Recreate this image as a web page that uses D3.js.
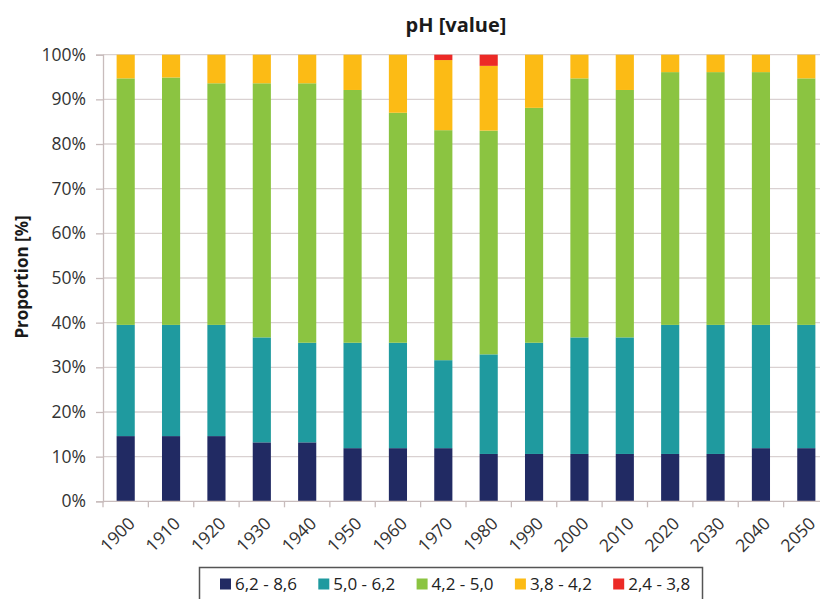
<!DOCTYPE html>
<html>
<head>
<meta charset="utf-8">
<script src="https://cdn.jsdelivr.net/npm/d3@7/dist/d3.min.js"></script>
<style>
  html, body { margin: 0; padding: 0; background: #fff; }
  svg { display: block; font-family: "Open Sans", "Noto Sans", sans-serif; }
</style>
</head>
<body>
<svg id="chart" width="820" height="599"></svg>
<script>
// Decades on the horizontal axis
const years = ["1900","1910","1920","1930","1940","1950","1960","1970",
               "1980","1990","2000","2010","2020","2030","2040","2050"];

// pH classes, bottom to top of each stacked bar
const classes = ["6,2 - 8,6", "5,0 - 6,2", "4,2 - 5,0", "3,8 - 4,2", "2,4 - 3,8"];
const colors  = ["#212a63", "#1f9a9f", "#8bc441", "#fcbb15", "#ec2a26"];

// Share of each class per decade, in percent
const ph62_86 = [14.6, 14.6, 14.6, 13.2, 13.2, 11.9, 11.9, 11.9, 10.6, 10.6, 10.6, 10.6, 10.6, 10.6, 11.9, 11.9];
const ph50_62 = [24.9, 24.9, 24.9, 23.5, 22.3, 23.6, 23.6, 19.7, 22.3, 24.9, 26.1, 26.1, 28.9, 28.9, 27.6, 27.6];
const ph42_50 = [55.2, 55.4, 54.1, 56.9, 58.1, 56.6, 51.5, 51.5, 50.1, 52.6, 58.0, 55.4, 56.6, 56.6, 56.6, 55.2];
const ph38_42 = [ 5.3,  5.1,  6.4,  6.4,  6.4,  7.9, 13.0, 15.7, 14.5, 11.9,  5.3,  7.9,  3.9,  3.9,  3.9,  5.3];
const ph24_38 = [ 0,    0,    0,    0,    0,    0,    0,    1.2,  2.5,  0,    0,    0,    0,    0,    0,    0  ];

const yTicks = [0, 10, 20, 30, 40, 50, 60, 70, 80, 90, 100];

const series = [ph62_86, ph50_62, ph42_50, ph38_42, ph24_38];
const rows = years.map((yr, i) => {
  const r = { year: yr };
  classes.forEach((c, k) => { r[c] = series[k][i]; });
  return r;
});

const svg = d3.select("#chart");
const plotL = 103, plotR = 829, plotT = 54.7, plotB = 501.3;
const textColor = "#333";

const x = d3.scaleBand().domain(years).range([plotL, plotR])
  .paddingInner(0.6).paddingOuter(0.3);
const y = d3.scaleLinear().domain([0, 100]).range([plotB, plotT]);

// Horizontal gridlines
svg.append("g").selectAll("line").data(yTicks.filter(d => d > 0)).join("line")
  .attr("x1", plotL).attr("x2", plotR)
  .attr("y1", d => y(d)).attr("y2", d => y(d))
  .attr("stroke", "#d9d1d1").attr("stroke-width", 1.3);

// Stacked bars
const stack = d3.stack().keys(classes)(rows);
svg.append("g").selectAll("g").data(stack).join("g")
  .attr("fill", (d, i) => colors[i])
  .selectAll("rect").data(d => d).join("rect")
  .attr("x", d => x(d.data.year))
  .attr("width", x.bandwidth())
  .attr("y", d => y(d[1]))
  .attr("height", d => y(d[0]) - y(d[1]));

// Y axis
const yAxis = d3.axisLeft(y).tickValues(yTicks).tickFormat(d => d + "%")
  .tickSize(7).tickPadding(10);
const gy = svg.append("g").attr("transform", `translate(${plotL},0)`).call(yAxis);
gy.select(".domain").attr("stroke", "#c8bcbc").attr("stroke-width", 1.3);
gy.selectAll(".tick line").attr("stroke", "#c8bcbc").attr("stroke-width", 1.3);
gy.selectAll(".tick text").attr("fill", textColor)
  .style("font-size", "17.5px").style("font-family", "'Open Sans', sans-serif");

// X axis: tick marks sit between the bars
const gx = svg.append("g").attr("transform", `translate(0,${plotB})`);
gx.append("line").attr("x1", plotL).attr("x2", plotR).attr("y1", 0).attr("y2", 0)
  .attr("stroke", "#c8bcbc").attr("stroke-width", 1.3);
const step = x.step();
const bounds = years.map(yr => x(yr) - (step - x.bandwidth()) / 2);
gx.selectAll("line.tk").data(bounds).join("line").attr("class", "tk")
  .attr("x1", d => d).attr("x2", d => d).attr("y1", 0).attr("y2", 6)
  .attr("stroke", "#c8bcbc").attr("stroke-width", 1.3);
gx.selectAll("text").data(years).join("text")
  .attr("transform", d => `translate(${x(d) + x.bandwidth() / 2 + 6},${19}) rotate(-45)`)
  .attr("text-anchor", "end")
  .attr("dy", "0.35em")
  .attr("fill", textColor)
  .style("font-size", "17.5px")
  .text(d => d);

// Title
svg.append("text").attr("x", 456).attr("y", 32)
  .attr("text-anchor", "middle").attr("fill", "#1a1a1a")
  .style("font-size", "20px").style("font-weight", "bold")
  .text("pH [value]");

// Y axis title
svg.append("text")
  .attr("transform", "translate(28,277) rotate(-90)")
  .attr("text-anchor", "middle").attr("fill", "#1a1a1a")
  .style("font-size", "17px").style("font-weight", "bold")
  .text("Proportion [%]");

// Legend
const lg = svg.append("g");
lg.append("rect").attr("x", 199.5).attr("y", 567.5).attr("width", 503).attr("height", 40)
  .attr("fill", "#fff").attr("stroke", "#555").attr("stroke-width", 1.5);
const item = lg.selectAll("g.item").data(classes).join("g").attr("class", "item")
  .attr("transform", (d, i) => `translate(${220 + i * 98.3},584)`);
item.append("rect").attr("x", 0).attr("y", -5.5).attr("width", 11).attr("height", 11)
  .attr("fill", (d, i) => colors[i]);
item.append("text").attr("x", 15).attr("dy", "0.35em").attr("fill", "#222")
  .style("font-size", "17px").text(d => d);
</script>
</body>
</html>
